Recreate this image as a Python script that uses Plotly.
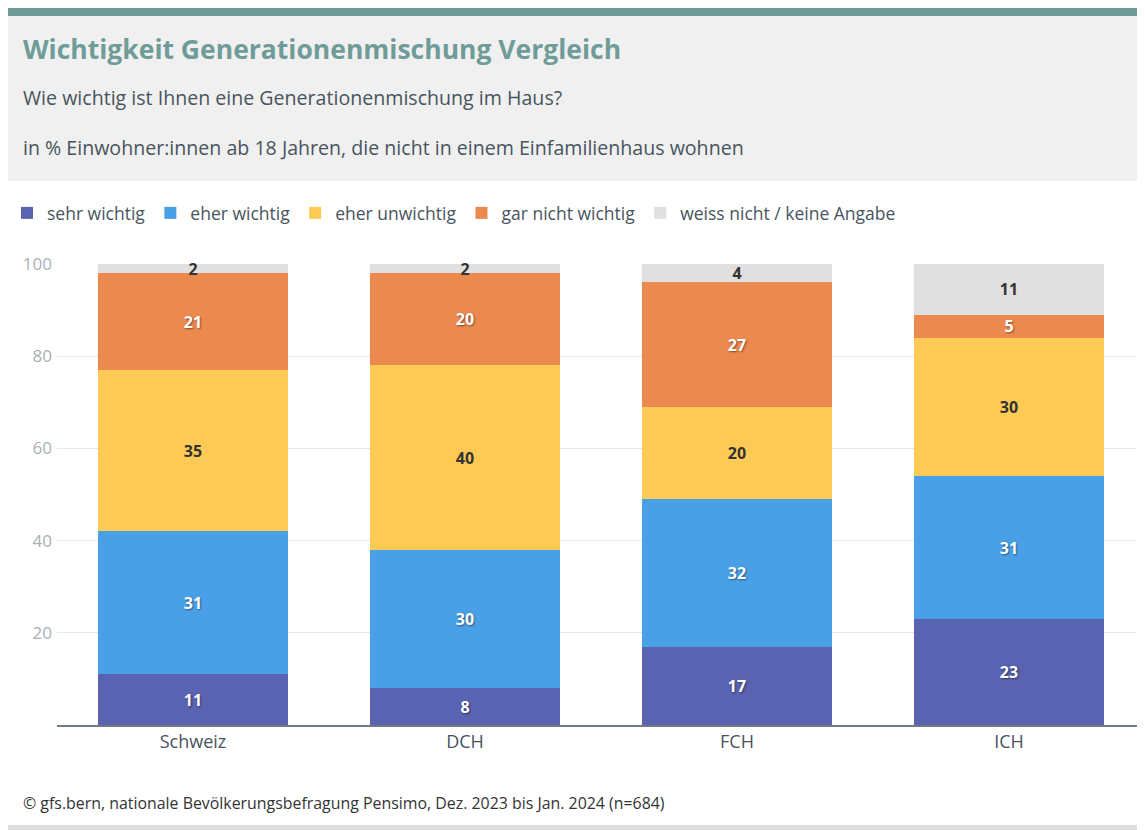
import plotly.graph_objects as go

categories = ["Schweiz", "DCH", "FCH", "ICH"]
series_names = ["sehr wichtig", "eher wichtig", "eher unwichtig", "gar nicht wichtig", "weiss nicht / keine Angabe"]
sehr_wichtig = [11, 8, 17, 23]
eher_wichtig = [31, 30, 32, 31]
eher_unwichtig = [35, 40, 20, 30]
gar_nicht_wichtig = [21, 20, 27, 5]
weiss_nicht = [2, 2, 4, 11]
y_ticks = [0, 20, 40, 60, 80, 100]
y_tick_labels = ["", "20", "40", "60", "80", "100"]

series_values = [sehr_wichtig, eher_wichtig, eher_unwichtig, gar_nicht_wichtig, weiss_nicht]
colors = ["#5A62B2", "#4AA0E7", "#FDCB55", "#EC894E", "#E0E0E0"]
text_colors = ["#FFFFFF", "#FFFFFF", "#333333", "#FFFFFF", "#333333"]

FONT = "Open Sans"
SLATE = "#48545E"

W, H = 1145, 830
OFF = 8  # page body margin
ML, MR, MT, MB = 49, 8, 256, 113
PW = W - ML - MR
PH = H - MT - MB

def px_x(x):  # screen x -> paper
    return (x - OFF - ML) / PW

def px_y(y):  # screen y -> paper
    return (H - MB - (y - OFF)) / PH

fig = go.Figure()
for name, vals, col, tcol in zip(series_names, series_values, colors, text_colors):
    shadow = "1px 1px 2px rgba(0,0,0,0.45)" if tcol == "#FFFFFF" else "none"
    fig.add_trace(go.Bar(
        name=name, x=categories, y=vals,
        marker=dict(color=col, line=dict(width=0)),
        text=[str(v) for v in vals],
        textposition="inside", insidetextanchor="middle", textangle=0,
        constraintext="none",
        textfont=dict(family=FONT, size=16, color=tcol, weight="bold", shadow=shadow),
        cliponaxis=False,
        hoverinfo="skip",
    ))

fig.update_layout(
    width=W, height=H,
    barmode="stack", bargap=0.3,
    paper_bgcolor="white", plot_bgcolor="white",
    margin=dict(l=ML, r=MR, t=MT, b=MB, autoexpand=False),
    font=dict(family=FONT, color="#333333"),
    uniformtext=dict(minsize=16, mode="show"),
    showlegend=True,
    legend=dict(
        orientation="h", x=px_x(7), y=px_y(213), xanchor="left", yanchor="middle",
        font=dict(family=FONT, size=17.5, color=SLATE),
        itemwidth=30, traceorder="normal", bgcolor="rgba(0,0,0,0)",
    ),
    xaxis=dict(
        showgrid=False, showline=True, linecolor="#6E7B80", linewidth=1.5,
        ticks="", tickfont=dict(family=FONT, size=18, color=SLATE),
        fixedrange=True,
    ),
    yaxis=dict(
        range=[0, 100], tickvals=y_ticks, ticktext=y_tick_labels,
        showgrid=True, gridcolor="#E8E8E8", gridwidth=1,
        zeroline=False, showline=False, ticks="",
        tickfont=dict(family=FONT, size=17, color="#A9B0B5"),
        ticklabelstandoff=4,
        fixedrange=True,
    ),
    shapes=[
        dict(type="rect", xref="paper", yref="paper", x0=px_x(8), x1=px_x(1160),
             y0=px_y(181), y1=px_y(16), fillcolor="#F0F0F0", line=dict(width=0), layer="below"),
        dict(type="rect", xref="paper", yref="paper", x0=px_x(8), x1=px_x(1160),
             y0=px_y(16), y1=px_y(6), fillcolor="#6F9A96", line=dict(width=0), layer="below"),
        dict(type="rect", xref="paper", yref="paper", x0=px_x(8), x1=px_x(1160),
             y0=px_y(831), y1=px_y(825), fillcolor="#DDDDDD", line=dict(width=0), layer="below"),
    ],
    annotations=[
        dict(text="<b>Wichtigkeit Generationenmischung Vergleich</b>", xref="paper", yref="paper",
             x=px_x(21), y=px_y(49), xanchor="left", yanchor="middle", showarrow=False,
             font=dict(family=FONT, size=26.5, color="#6F9C98")),
        dict(text="Wie wichtig ist Ihnen eine Generationenmischung im Haus?", xref="paper", yref="paper",
             x=px_x(21), y=px_y(97), xanchor="left", yanchor="middle", showarrow=False,
             font=dict(family=FONT, size=19.6, color=SLATE)),
        dict(text="in % Einwohner:innen ab 18 Jahren, die nicht in einem Einfamilienhaus wohnen", xref="paper", yref="paper",
             x=px_x(21), y=px_y(147), xanchor="left", yanchor="middle", showarrow=False,
             font=dict(family=FONT, size=19.6, color=SLATE)),
        dict(text="© gfs.bern, nationale Bevölkerungsbefragung Pensimo, Dez. 2023 bis Jan. 2024 (n=684)", xref="paper", yref="paper",
             x=px_x(21), y=px_y(803), xanchor="left", yanchor="middle", showarrow=False,
             font=dict(family=FONT, size=15.9, color="#333333")),
    ],
)

fig.write_html("out.html")
